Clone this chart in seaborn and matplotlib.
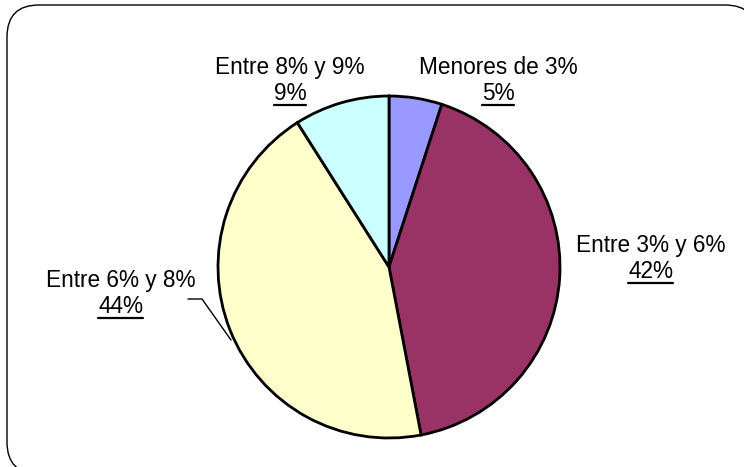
import numpy as np
import matplotlib
matplotlib.use("Agg")
import matplotlib.pyplot as plt
import seaborn as sns
from matplotlib.patches import FancyBboxPatch

# datos del grafico
categorias = ["Menores de 3%", "Entre 3% y 6%", "Entre 6% y 8%", "Entre 8% y 9%"]
porcentajes = [5, 42, 44, 9]
colores = ["#9999FF", "#993366", "#FFFFCC", "#CCFFFF"]

sns.set_theme(style="white")
plt.rcParams['font.family'] = ['Liberation Sans', 'DejaVu Sans']

W, H = 744, 467
fig = plt.figure(figsize=(W / 100, H / 100), dpi=100)
ax = fig.add_axes([0, 0, 1, 1])

# marco redondeado con sombra (sale por la derecha y por abajo)
sombra = FancyBboxPatch((10, -10), 750, 470, boxstyle="round,pad=0,rounding_size=32",
                        facecolor="black", edgecolor="black", lw=1, zorder=0)
marco = FancyBboxPatch((7, -7), 750, 469, boxstyle="round,pad=0,rounding_size=32",
                       facecolor="white", edgecolor="black", lw=1, zorder=1)
ax.add_patch(sombra)
ax.add_patch(marco)

ax.pie(porcentajes, colors=colores, startangle=90, counterclock=False,
       center=(389, H - 267), radius=171,
       wedgeprops=dict(edgecolor="black", linewidth=2, zorder=3))

ax.set_xlim(0, W)
ax.set_ylim(0, H)
ax.set_aspect("equal")
ax.axis("off")

# posiciones de etiquetas (x centro, baseline linea 1, baseline linea 2)
pos = [(498, 74, 100), (651, 252, 278), (121, 287, 313), (290, 74, 100)]
renderer = fig.canvas.get_renderer()
for cat, val, (x, y1, y2) in zip(categorias, porcentajes, pos):
    ax.text(x, H - y1, cat, ha="center", va="baseline", fontsize=16.3, color="black", zorder=5)
    t = ax.text(x, H - y2, f"{val}%", ha="center", va="baseline", fontsize=16.3, color="black", zorder=5)
    bb = t.get_window_extent(renderer=renderer)
    inv = ax.transData.inverted()
    (x0, _), (x1, _) = inv.transform([(bb.x0, bb.y0), (bb.x1, bb.y0)])
    ax.plot([x0, x1], [H - y2 - 5, H - y2 - 5], color="black", lw=1.6, zorder=5)

# linea guia de "Entre 6% y 8%"
ax.plot([188, 202, 231], [H - 299, H - 299, H - 340], color="black", lw=1, zorder=4)

fig.savefig("out.png", dpi=100)
